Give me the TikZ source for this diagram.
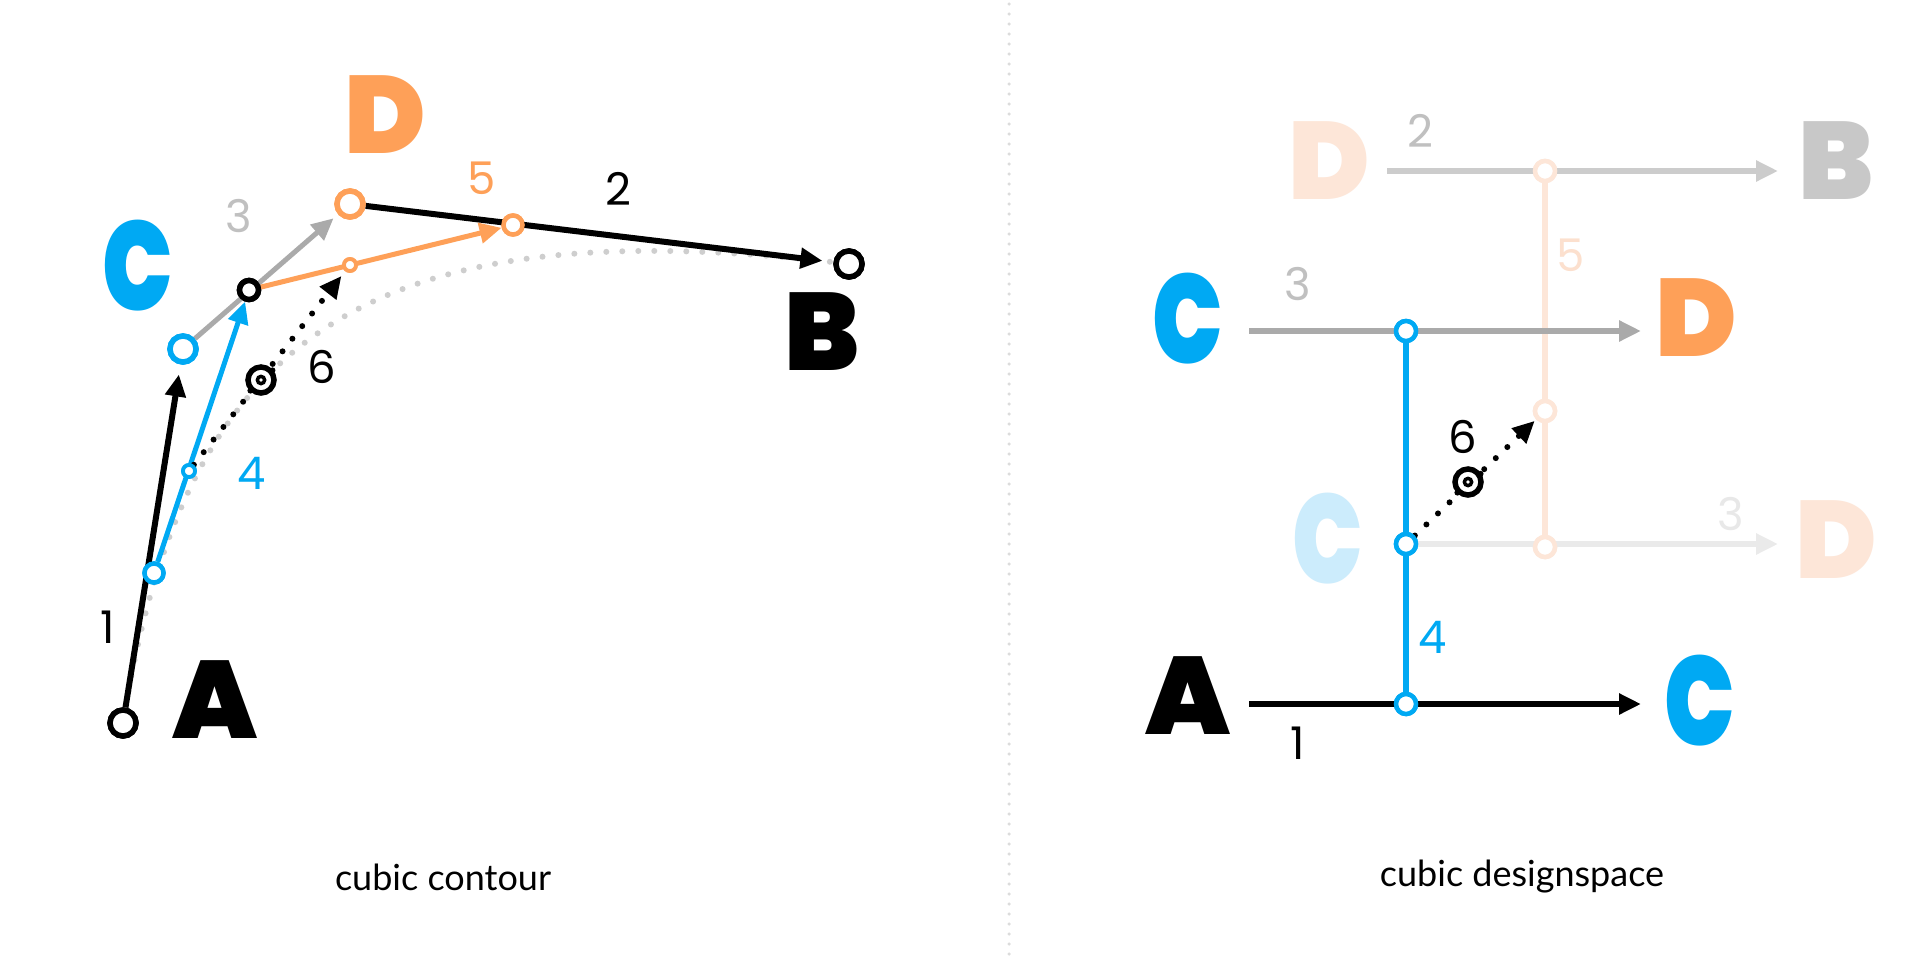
\documentclass[tikz,border=0pt]{standalone}
\usepackage{fontspec}
\usetikzlibrary{arrows.meta}
\setmainfont{Poppins}
\IfFontExistsTF{Poppins Black}{\newfontfamily\heavyfont{Poppins Black}}{\newfontfamily\heavyfont{Poppins}[FakeBold=5]}
\newfontfamily\numfont{Poppins}
\newfontfamily\capfont{Lato}
\definecolor{cblue}{RGB}{0,169,243}
\definecolor{corange}{RGB}{254,160,88}
\definecolor{cgrey}{RGB}{170,170,170}
\definecolor{cgreylab}{RGB}{192,192,192}
\definecolor{fadeorange}{RGB}{253,230,216}
\definecolor{fadeorangelab}{RGB}{252,224,206}
\definecolor{fadeblue}{RGB}{204,236,252}
\definecolor{fadegrey}{RGB}{234,234,234}
\definecolor{fadegreylab}{RGB}{232,232,232}
\definecolor{midgrey}{RGB}{200,200,200}
\definecolor{linegrey}{RGB}{204,204,204}
\definecolor{dotgrey}{RGB}{206,206,206}
\definecolor{sepgrey}{RGB}{220,220,220}
\tikzset{
  big/.style={font=\heavyfont\fontsize{110}{110}\selectfont, inner sep=0pt},
  bigc/.style={big, xscale=0.85, yscale=1.15},
  num/.style={font=\numfont\fontsize{45}{45}\selectfont, inner sep=0pt},
  capt/.style={font=\capfont\fontsize{36}{36}\selectfont, inner sep=0pt},
  pt/.style={circle, draw=black, fill=white, line width=5.5pt, minimum size=26pt, inner sep=0pt},
  ptm/.style={pt, minimum size=19pt, line width=4.5pt},
  pts/.style={pt, minimum size=12pt, line width=3.8pt},
  rpt/.style={pt, minimum size=20pt, line width=4.5pt},
  arr/.style={-{Triangle[length=22pt,width=20pt]}},
  conn/.style={line width=6pt},
  sconn/.style={line width=5pt},
  rconn/.style={line width=5.5pt},
  dotline/.style={line width=6pt, line cap=round, dash pattern=on 0pt off 16pt},
  tgt/.style={circle, draw, fill=white, line width=5.5pt, minimum size=26pt, inner sep=0pt},
}
\begin{document}
\begin{tikzpicture}[x=1pt,y=-1pt]
\fill[white] (0,0) rectangle (1920,961);
\useasboundingbox (0,0) rectangle (1920,961);
% separator
\draw[sepgrey, line width=3.5pt, line cap=round, dash pattern=on 0pt off 10pt] (1009,4) -- (1009,961);

% ================= LEFT: cubic contour =================
\coordinate (A) at (123,723);
\coordinate (C) at (183,349);
\coordinate (D) at (350,204);
\coordinate (B) at (849,264);
% grey dotted curve
\draw[dotline, dotgrey] (A) .. controls (C) and (D) .. (B);

\node[pt] (nA) at (A) {};
\node[pt, draw=cblue] (nC) at (C) {};
\node[pt, draw=corange] (nD) at (D) {};
\node[pt] (nB) at (B) {};
\node[ptm, draw=cblue] (P1) at (154,573) {};
\node[ptm, line width=5.5pt] (P2) at (249,290) {};
\node[ptm, draw=corange] (P3) at (513,225) {};
\node[pts, draw=cblue] (Q1) at (189,471) {};
\node[pts, draw=corange] (Q2) at (350,265) {};

% connectors (drawn, then circles redrawn on top)
\draw[conn, arr, shorten >=10pt] (nA) -- (nC);
\draw[sconn, cgrey, arr, shorten >=6pt] (nC) -- (nD);
\draw[conn, arr, shorten >=11pt] (nD) -- (nB);
\draw[sconn, cblue, arr] (P1) -- (P2);
\draw[sconn, corange, arr] (P2) -- (P3);
\draw[dotline, arr, shorten >=6pt] (Q1) -- (Q2);

\node[pt] at (A) {};
\node[pt, draw=cblue] at (C) {};
\node[pt, draw=corange] at (D) {};
\node[pt] at (B) {};
\node[ptm, draw=cblue] at (P1) {};
\node[ptm, line width=5.5pt] at (P2) {};
\node[ptm, draw=corange] at (P3) {};
\node[pts, draw=cblue] at (Q1) {};
\node[pts, draw=corange] at (Q2) {};

% target
\node[tgt] (T) at (261,380) {};
\fill (T) circle (5.5pt);
\fill[white] (T) circle (1.8pt);
\fill (T) ++(40:15pt) circle (3pt);
\fill (T) ++(225:15pt) circle (3pt);

% letters
\node[big] (lA) at (215,700) {A};
\node[bigc, cblue] (lC) at (138,266) {C};
\node[big, corange] (lD) at (385,115) {D};
\node[big] (lB) at (822,332) {B};
% numbers
\node[num] (n1) at (108,627) {1};
\node[num, cgreylab] (n3) at (239,216) {3};
\node[num, corange] (n5) at (482,178) {5};
\node[num] (n2) at (618,189) {2};
\node[num, cblue] (n4) at (252,473) {4};
\node[num] (n6) at (322,367) {6};
\node[capt] (cap1) at (443,877) {cubic contour};

% ================= RIGHT: cubic designspace =================
\coordinate (r1s) at (1249,704);
\coordinate (r1e) at (1641,704);
\coordinate (r3s) at (1249,331);
\coordinate (r3e) at (1641,331);
\coordinate (r2s) at (1387,171);
\coordinate (r2e) at (1778,171);
\coordinate (rme) at (1778,544);

\node[rpt, draw=cblue] (rP1) at (1406,704) {};
\node[rpt, draw=cblue] (rP2) at (1406,544) {};
\node[rpt, draw=cblue] (rP3) at (1406,331) {};
\node[rpt, draw=fadeorange] (rO1) at (1545,547) {};
\node[rpt, draw=fadeorange] (rO2) at (1545,411) {};
\node[rpt, draw=fadeorange] (rO3) at (1545,171) {};

\draw[rconn, fadeorange] (rO1) -- (rO2);
\draw[rconn, fadeorange] (rO2) -- (rO3);
\draw[rconn, fadegrey, arr] (rP2) -- (rme);
\draw[rconn, linegrey, arr] (r2s) -- (r2e);
\draw[rconn, black, arr] (r1s) -- (r1e);
\draw[rconn, cgrey, arr] (r3s) -- (r3e);
\draw[rconn, cblue] (rP1) -- (rP2);
\draw[rconn, cblue] (rP2) -- (rP3);
\draw[dotline, arr, shorten >=2pt] (rP2) -- (rO2);

\node[rpt, draw=cblue] at (rP1) {};
\node[rpt, draw=cblue] at (rP2) {};
\node[rpt, draw=cblue] at (rP3) {};
\node[rpt, draw=fadeorange] at (rO1) {};
\node[rpt, draw=fadeorange] at (rO2) {};
\node[rpt, draw=fadeorange] at (rO3) {};

\node[tgt] (rT) at (1468,482) {};
\fill (rT) circle (5.5pt);
\fill[white] (rT) circle (1.8pt);
\fill (rT) ++(33:15pt) circle (3pt);
\fill (rT) ++(225:15pt) circle (3pt);

\node[big] (rA) at (1188,696) {A};
\node[bigc, cblue] (rC1) at (1700,701) {C};
\node[bigc, cblue] (rC2) at (1188,319) {C};
\node[big, corange] (rD1) at (1696,318) {D};
\node[big, fadeorange] (rD2) at (1329,161) {D};
\node[big, midgrey] (rB) at (1836,161) {B};
\node[bigc, fadeblue] (rC3) at (1328,539) {C};
\node[big, fadeorange] (rD3) at (1836,540) {D};

\node[num] (rn1) at (1298,743) {1};
\node[num, cblue] (rn4) at (1433,637) {4};
\node[num, cgreylab] (rn3) at (1298,284) {3};
\node[num, cgreylab] (rn2) at (1420,131) {2};
\node[num, fadeorangelab] (rn5) at (1571,255) {5};
\node[num, fadegreylab] (rn3b) at (1731,514) {3};
\node[num] (rn6) at (1463,437) {6};
\node[capt] (cap2) at (1522,877) {cubic designspace};
\end{tikzpicture}
\end{document}
